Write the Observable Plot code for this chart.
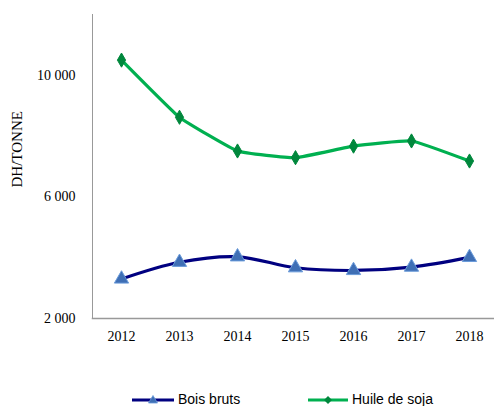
<!DOCTYPE html>
<html>
<head>
<meta charset="utf-8">
<script src="https://cdn.jsdelivr.net/npm/d3@7"></script>
<script src="https://cdn.jsdelivr.net/npm/@observablehq/plot@0.6"></script>
<style>
  html, body { margin: 0; padding: 0; background: #fff; }
  #chart { width: 494px; height: 406px; position: relative; overflow: hidden; }
  .legend { position: absolute; left: 0; top: 392px; height: 15px; width: 494px; font-family: "Liberation Sans", Arial, sans-serif; font-size: 14px; line-height: 15px; color: #000; }
  .item { position: absolute; top: 0; display: flex; align-items: center; height: 15px; }
  .item svg { margin-right: 4px; }
</style>
</head>
<body>
<div id="chart"></div>
<script>
const years = ["2012", "2013", "2014", "2015", "2016", "2017", "2018"];
const boisBruts = [3300, 3850, 4030, 3670, 3580, 3690, 4010];
const huileSoja = [10500, 8620, 7510, 7290, 7670, 7840, 7180];
const yTicks = [2000, 6000, 10000];
const seriesNames = ["Bois bruts", "Huile de soja"];

const bois = years.map((y, i) => ({year: y, value: boisBruts[i]}));
const huile = years.map((y, i) => ({year: y, value: huileSoja[i]}));

const fmt = d => d3.format(",")(d).replace(/,/g, " ");

const chart = Plot.plot({
  width: 494,
  height: 390,
  marginLeft: 92,
  marginRight: 0,
  marginTop: 14,
  marginBottom: 72,
  style: {fontFamily: "'Liberation Serif', 'Times New Roman', serif", fontSize: "14px", color: "#000", background: "#fff"},
  x: {type: "point", domain: years, range: [120.7, 469.7], padding: 0},
  y: {domain: [2000, 12000]},
  marks: [
    Plot.frame({anchor: "left", stroke: "#999"}),
    Plot.frame({anchor: "bottom", stroke: "#999", strokeWidth: 1.5}),
    Plot.axisY({ticks: yTicks, tickFormat: fmt, tickSize: 0, tickPadding: 17, fontSize: 14, label: null}),
    Plot.axisX({tickSize: 0, tickPadding: 13, fontSize: 14, label: null}),
    Plot.text(["DH/TONNE"], {frameAnchor: "left", rotate: -90, dx: -75, dy: 21, fontSize: 15}),
    Plot.line(huile, {x: "year", y: "value", stroke: "#00B050", strokeWidth: 3.2, curve: "cardinal", tension: 0.65}),
    Plot.dot(huile, {x: "year", y: "value", symbol: "diamond", r: 4.3, fill: "#00873C", stroke: "#00873C", strokeWidth: 1}),
    Plot.line(bois, {x: "year", y: "value", stroke: "#000080", strokeWidth: 3.2, curve: "catmull-rom"}),
    Plot.dot(bois, {x: "year", y: "value", symbol: "triangle", r: 5.3, fill: "#3F6FB5", stroke: "#6A9BDA", strokeWidth: 1})
  ]
});
document.getElementById("chart").appendChild(chart);

const legend = document.createElement("div");
legend.className = "legend";
legend.innerHTML = `
  <div class="item" style="left:132px">
    <svg width="42" height="14"><line x1="0" y1="7" x2="42" y2="7" stroke="#000080" stroke-width="3"/><path d="M21,2.5 L25.5,10 L16.5,10 Z" fill="#3F6FB5" stroke="#6A9BDA" stroke-width="0.8"/></svg>
    <span>${seriesNames[0]}</span>
  </div>
  <div class="item" style="left:308px">
    <svg width="40" height="14"><line x1="0" y1="7" x2="40" y2="7" stroke="#00B050" stroke-width="3"/><path d="M20,3 L24,7 L20,11 L16,7 Z" fill="#00873C"/></svg>
    <span>${seriesNames[1]}</span>
  </div>`;
document.getElementById("chart").appendChild(legend);
</script>
</body>
</html>
